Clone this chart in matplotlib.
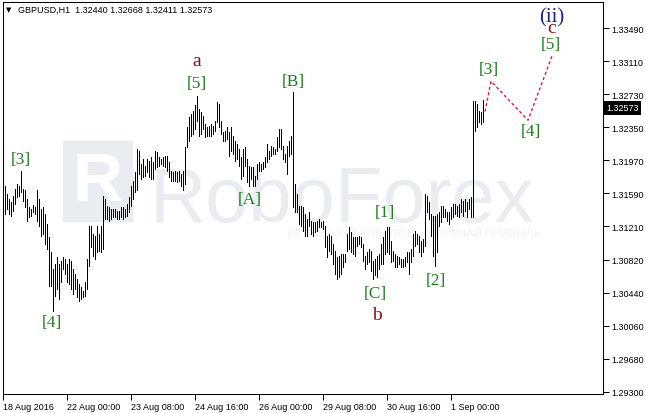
import matplotlib
matplotlib.use('Agg')
import matplotlib.pyplot as plt
from matplotlib.patches import Rectangle

# GBPUSD H1, one bar per hour starting 18 Aug 2016 16:00
symbol = 'GBPUSD,H1'
last_ohlc = [1.32440, 1.32668, 1.32411, 1.32573]

highs = [
    1.3162, 1.3167, 1.3158, 1.3152, 1.3149, 1.3156, 1.3164, 1.3170, 1.3167, 1.3185,
    1.3164, 1.3162, 1.3152, 1.3143, 1.3141, 1.3145, 1.3143, 1.3162, 1.3152, 1.3141,
    1.3143, 1.3135, 1.3123, 1.3108, 1.3091, 1.3072, 1.3077, 1.3085, 1.3077, 1.3081,
    1.3085, 1.3083, 1.3077, 1.3083, 1.3081, 1.3072, 1.3066, 1.3060, 1.3054, 1.3051,
    1.3046, 1.3057, 1.3083, 1.3121, 1.3121, 1.3112, 1.3110, 1.3121, 1.3112, 1.3121,
    1.3156, 1.3152, 1.3144, 1.3143, 1.3141, 1.3141, 1.3141, 1.3138, 1.3138, 1.3143,
    1.3143, 1.3141, 1.3146, 1.3155, 1.3167, 1.3173, 1.3183, 1.3210, 1.3208, 1.3193,
    1.3198, 1.3190, 1.3198, 1.3196, 1.3201, 1.3195, 1.3208, 1.3206, 1.3201, 1.3198,
    1.3201, 1.3202, 1.3202, 1.3195, 1.3185, 1.3183, 1.3185, 1.3183, 1.3185, 1.3181,
    1.3185, 1.3212, 1.3235, 1.3247, 1.3250, 1.3254, 1.3260, 1.3271, 1.3256, 1.3253,
    1.3248, 1.3239, 1.3235, 1.3236, 1.3239, 1.3236, 1.3242, 1.3264, 1.3262, 1.3242,
    1.3229, 1.3231, 1.3235, 1.3229, 1.3235, 1.3225, 1.3219, 1.3216, 1.3210, 1.3201,
    1.3210, 1.3212, 1.3198, 1.3190, 1.3189, 1.3189, 1.3179, 1.3193, 1.3195, 1.3193,
    1.3195, 1.3201, 1.3216, 1.3208, 1.3213, 1.3212, 1.3210, 1.3224, 1.3233, 1.3233,
    1.3213, 1.3204, 1.3213, 1.3219, 1.3225, 1.3276, 1.3170, 1.3158, 1.3144, 1.3144,
    1.3143, 1.3135, 1.3129, 1.3137, 1.3127, 1.3126, 1.3126, 1.3127, 1.3129, 1.3126,
    1.3127, 1.3121, 1.3110, 1.3112, 1.3110, 1.3100, 1.3092, 1.3085, 1.3087, 1.3089,
    1.3089, 1.3089, 1.3112, 1.3120, 1.3114, 1.3108, 1.3108, 1.3108, 1.3110, 1.3108,
    1.3100, 1.3087, 1.3091, 1.3095, 1.3092, 1.3081, 1.3083, 1.3087, 1.3089, 1.3100,
    1.3108, 1.3115, 1.3120, 1.3120, 1.3104, 1.3092, 1.3089, 1.3087, 1.3085, 1.3083,
    1.3083, 1.3085, 1.3091, 1.3091, 1.3095, 1.3112, 1.3115, 1.3112, 1.3110, 1.3104,
    1.3106, 1.3158, 1.3156, 1.3149, 1.3135, 1.3133, 1.3133, 1.3135, 1.3137, 1.3144,
    1.3144, 1.3141, 1.3137, 1.3137, 1.3143, 1.3146, 1.3146, 1.3144, 1.3146, 1.3152,
    1.3150, 1.3152, 1.3149, 1.3152, 1.3155, 1.3265, 1.3265, 1.3262, 1.3254, 1.3253,
    last_ohlc[1],
]

lows = [
    1.3126, 1.3135, 1.3141, 1.3135, 1.3133, 1.3138, 1.3146, 1.3155, 1.3156, 1.3160,
    1.3150, 1.3143, 1.3127, 1.3131, 1.3133, 1.3137, 1.3135, 1.3127, 1.3121, 1.3110,
    1.3112, 1.3100, 1.3095, 1.3052, 1.3052, 1.3023, 1.3040, 1.3048, 1.3037, 1.3057,
    1.3072, 1.3066, 1.3057, 1.3054, 1.3048, 1.3043, 1.3048, 1.3039, 1.3035, 1.3037,
    1.3039, 1.3040, 1.3048, 1.3075, 1.3097, 1.3087, 1.3083, 1.3091, 1.3092, 1.3091,
    1.3095, 1.3129, 1.3129, 1.3127, 1.3129, 1.3131, 1.3131, 1.3129, 1.3129, 1.3131,
    1.3129, 1.3131, 1.3133, 1.3137, 1.3144, 1.3152, 1.3160, 1.3162, 1.3181, 1.3175,
    1.3178, 1.3179, 1.3183, 1.3178, 1.3175, 1.3175, 1.3187, 1.3189, 1.3190, 1.3193,
    1.3190, 1.3189, 1.3185, 1.3178, 1.3173, 1.3173, 1.3173, 1.3172, 1.3173, 1.3167,
    1.3162, 1.3170, 1.3212, 1.3219, 1.3225, 1.3227, 1.3233, 1.3242, 1.3225, 1.3227,
    1.3233, 1.3224, 1.3225, 1.3225, 1.3225, 1.3227, 1.3231, 1.3241, 1.3235, 1.3227,
    1.3219, 1.3219, 1.3221, 1.3202, 1.3208, 1.3204, 1.3196, 1.3198, 1.3190, 1.3175,
    1.3179, 1.3190, 1.3172, 1.3167, 1.3175, 1.3167, 1.3167, 1.3175, 1.3185, 1.3185,
    1.3187, 1.3189, 1.3195, 1.3198, 1.3202, 1.3204, 1.3204, 1.3208, 1.3212, 1.3210,
    1.3198, 1.3195, 1.3181, 1.3202, 1.3204, 1.3143, 1.3137, 1.3137, 1.3123, 1.3121,
    1.3115, 1.3110, 1.3110, 1.3121, 1.3112, 1.3110, 1.3114, 1.3115, 1.3120, 1.3120,
    1.3118, 1.3097, 1.3085, 1.3092, 1.3089, 1.3077, 1.3066, 1.3060, 1.3062, 1.3066,
    1.3074, 1.3080, 1.3092, 1.3095, 1.3091, 1.3089, 1.3087, 1.3098, 1.3100, 1.3097,
    1.3081, 1.3072, 1.3077, 1.3080, 1.3069, 1.3060, 1.3064, 1.3062, 1.3072, 1.3077,
    1.3077, 1.3089, 1.3091, 1.3089, 1.3080, 1.3081, 1.3074, 1.3074, 1.3077, 1.3074,
    1.3074, 1.3075, 1.3080, 1.3066, 1.3080, 1.3087, 1.3098, 1.3100, 1.3091, 1.3087,
    1.3091, 1.3098, 1.3137, 1.3129, 1.3110, 1.3087, 1.3075, 1.3091, 1.3121, 1.3126,
    1.3131, 1.3131, 1.3127, 1.3123, 1.3129, 1.3131, 1.3135, 1.3133, 1.3131, 1.3137,
    1.3133, 1.3138, 1.3131, 1.3141, 1.3131, 1.3131, 1.3231, 1.3235, 1.3241, 1.3239,
    last_ohlc[2],
]

# forecast path (bar index in the future, price)
forecast_bar = [241, 244, 262.5, 274.5]
forecast_price = [1.3253, 1.3288, 1.3243, 1.3317]

xtick_bars = [0, 32, 64, 96, 128, 160, 192, 224]
xtick_labels = ['18 Aug 2016', '22 Aug 00:00', '23 Aug 08:00', '24 Aug 16:00',
                '26 Aug 00:00', '29 Aug 08:00', '30 Aug 16:00', '1 Sep 00:00']
ytick_vals = [1.33490, 1.33110, 1.32730, 1.32350, 1.31970, 1.31590,
              1.31210, 1.30820, 1.30440, 1.30060, 1.29680, 1.29300]

W, H = 646, 414
fig = plt.figure(figsize=(W / 100, H / 100), dpi=100)
ax = fig.add_axes([2.5 / W, 1 - 395 / H, (603.3 - 2.5) / W, (395 - 2.7) / H])
ax.set_xlim(-0.25, 300.15)
ax.set_ylim(1.29273, 1.33797)
ax.set_zorder(2)
ax.set_facecolor('none')

# watermark, kept behind the axes
wm = '#e9ecf1'
fig.patches.append(Rectangle((63 / W, 1 - 222 / H), 69 / W, 80 / H,
                             transform=fig.transFigure, color=wm, zorder=0))
fig.text(97 / W, 1 - 183 / H, 'R', color='white', fontsize=50, fontweight='bold',
         family='Liberation Sans', ha='center', va='center', zorder=0.5)
fig.text(150 / W, 1 - 222 / H, 'RoboForex', color=wm, fontsize=56,
         family='Liberation Sans', ha='left', va='baseline', zorder=0.5)
fig.text(287 / W, 1 - 234 / H, 'ИСПОЛЬЗУЙ РОБОТОВ – ПОЛУЧАЙ ПРИБЫЛЬ', color='#eef1f6',
         fontsize=8.2, family='Liberation Sans', ha='left', va='center', zorder=0.5)

# bars
idx = list(range(len(highs)))
ax.vlines(idx, lows, highs, colors='black', linewidth=0.6, antialiased=False, zorder=2)

# forecast dashes
ax.plot(forecast_bar, forecast_price, color='#e8174f', lw=1.0, ls=(0, (2.2, 1.8)), zorder=3)

green = '#1f7f1f'
red = '#8e1010'
navy = '#23238a'


def wave(text, x, y, dx, dy, color=green, size=12.5):
    ax.annotate(text, (x, y), xytext=(dx * 0.72, dy * 0.72), textcoords='offset points',
                ha='center', va='center', color=color, fontsize=size,
                family='Liberation Serif', zorder=4)


wave('[3]', 9, highs[9], 0, 12)
wave('[4]', 25, lows[25], -1, -11)
wave('[5]', 97, highs[97], 0, 13)
wave('a', 97, highs[97], 0, 35, red, 14)
wave('[A]', 123, lows[123], 1, -13)
wave('[B]', 145, highs[145], 0, 11)
wave('[C]', 185, lows[185], 2, -14)
wave('b', 185, lows[185], 4, -36, red, 14)
wave('[1]', 192, highs[192], -2, 15)
wave('[2]', 216, lows[216], 1, -14)
wave('[3]', forecast_bar[1], forecast_price[1], -2, 12)
wave('[4]', forecast_bar[2], forecast_price[2], 3, -11)
wave('[5]', forecast_bar[3], forecast_price[3], -1, 12)
wave('c', forecast_bar[3], forecast_price[3], 0, 29, red, 14)
wave('(ii)', forecast_bar[3], forecast_price[3], 0, 39, navy, 15)

# axes styling like the terminal
for s in ax.spines.values():
    s.set_linewidth(0.75)
    s.set_color('black')
ax.yaxis.tick_right()
ax.set_yticks(ytick_vals, [f'{v:.5f}' for v in ytick_vals])
ax.set_xticks(xtick_bars, xtick_labels)
ax.tick_params(axis='both', direction='out', length=4, width=0.75, labelsize=6.5, colors='black')
ax.tick_params(axis='y', pad=1.5)
ax.tick_params(axis='x', pad=1.5)
for lab in ax.get_xticklabels() + ax.get_yticklabels():
    lab.set_family('Liberation Sans')
for lab in ax.get_xticklabels():
    lab.set_ha('left')

# current price box
ax.annotate(f'{last_ohlc[3]:.5f}', xy=(1, last_ohlc[3]), xycoords=ax.get_yaxis_transform(),
            xytext=(2, 0), textcoords='offset points', ha='left', va='center',
            color='white', fontsize=6.5, family='Liberation Sans',
            bbox=dict(boxstyle='square,pad=0.25', fc='black', ec='none'))

# header
fig.text(6 / W, 1 - 10 / H, '▼', fontsize=5, family='DejaVu Sans', va='center', ha='left')
fig.text(18 / W, 1 - 10 / H, symbol + '  ' + ' '.join(f'{v:.5f}' for v in last_ohlc),
         fontsize=6.5, family='Liberation Sans', va='center', ha='left')

fig.savefig('out.png', dpi=100, facecolor='white')
